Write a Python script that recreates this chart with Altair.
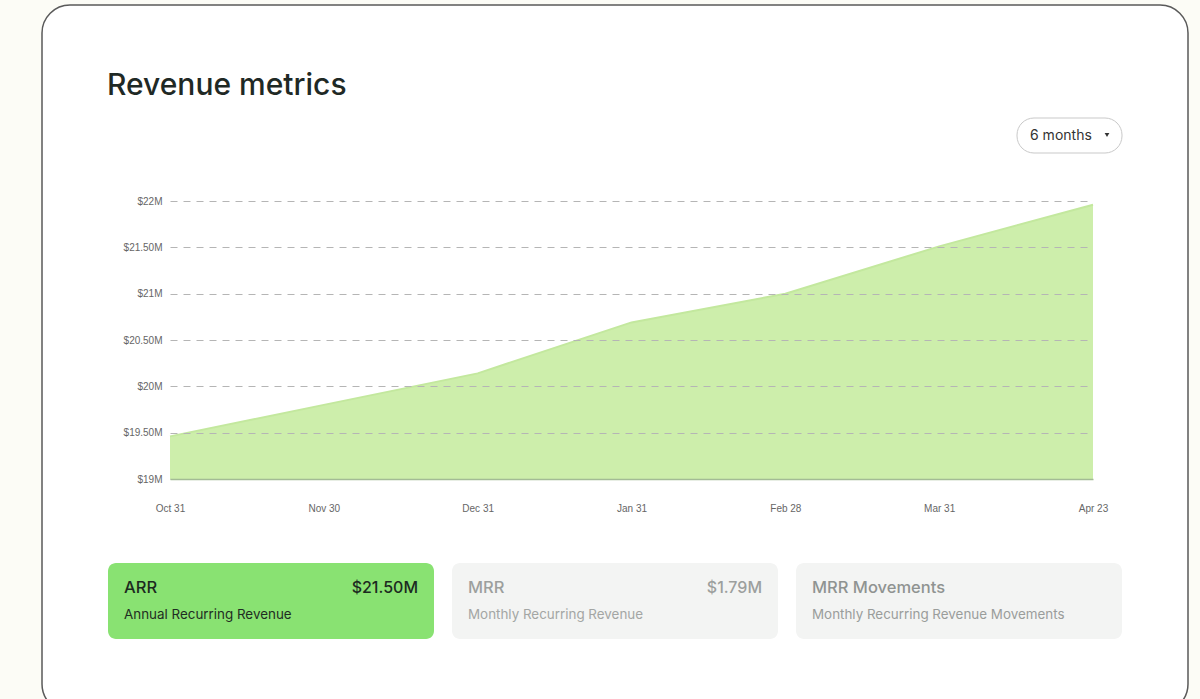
import altair as alt
import pandas as pd

# ---- data ----
dates = ["Oct 31", "Nov 30", "Dec 31", "Jan 31", "Feb 28", "Mar 31", "Apr 23"]
arr_millions = [19.46, 19.80, 20.14, 20.69, 21.00, 21.51, 21.96]
y_ticks = [19, 19.5, 20, 20.5, 21, 21.5, 22]
y_floor = 19

title_text = "Revenue metrics"
period_label = "6 months"
card_titles = ["ARR", "MRR", "MRR Movements"]
card_values = ["$21.50M", "$1.79M", ""]
card_subtitles = [
    "Annual Recurring Revenue",
    "Monthly Recurring Revenue",
    "Monthly Recurring Revenue Movements",
]

# ---- layout (pixels in the 1200x699 page) ----
OX, OY = 170, 201          # plot origin
W, H = 923, 278            # plot size
FONT = "Inter"
AXFONT = "Liberation Sans"


def X(v):
    return alt.value(v - OX)


def Y(v):
    return alt.value(v - OY)


def one():
    return alt.Data(values=[{"k": 0}])


def rect(x1, y1, x2, y2, **kw):
    return alt.Chart(one()).mark_rect(**kw).encode(x=X(x1), x2=X(x2), y=Y(y1), y2=Y(y2))


def label(text, x, y, **kw):
    kw.setdefault("font", FONT)
    kw.setdefault("baseline", "middle")
    kw.setdefault("align", "left")
    return alt.Chart(one()).mark_text(text=text, **kw).encode(x=X(x), y=Y(y))


df = pd.DataFrame({"date": dates, "arr": arr_millions})

card_bg = rect(42, 5, 1188, 712, fill="#ffffff", stroke="#5a5a5a", strokeWidth=1.5, cornerRadius=28)

area = alt.Chart(df).mark_area(
    color="#cdeeab", opacity=1,
    line={"color": "#c3e89e", "strokeWidth": 2},
).encode(
    x=alt.X("date:N", sort=dates, scale=alt.Scale(type="point", padding=0),
            axis=alt.Axis(title=None, labelAngle=0, ticks=False, grid=False,
                          domain=True, domainColor="#a3bb95", domainWidth=1.5,
                          labelPadding=24, labelFont=AXFONT, labelFontSize=10,
                          labelColor="#666666", zindex=1)),
    y=alt.Y("arr:Q", scale=alt.Scale(domain=[19, 22], zero=False, nice=False),
            axis=alt.Axis(title=None, values=y_ticks, ticks=False, domain=False,
                          grid=True, gridColor="#b5b5b5", gridDash=[7, 6], gridWidth=1,
                          labelPadding=8, labelFont=AXFONT, labelFontSize=10,
                          labelColor="#666666", zindex=1,
                          labelExpr="datum.value % 1 == 0 ? '$' + datum.value + 'M' : '$' + format(datum.value, '.2f') + 'M'")),
    y2=alt.Y2Datum(y_floor),
)

layers = [card_bg, area]

layers.append(label(title_text, 107, 86, fontSize=30, fontWeight=500, color="#1f2925"))

# period dropdown
layers.append(rect(1017, 118, 1122, 153, fill="#ffffff", stroke="#c9c9c9", strokeWidth=1, cornerRadius=17))
layers.append(label(period_label, 1030, 136, fontSize=14, color="#333333"))
layers.append(alt.Chart(one()).mark_point(shape="triangle-down", size=22, filled=True, color="#333333", opacity=1)
              .encode(x=X(1107), y=Y(135)))

# metric cards
card_x = [108, 452, 796]
card_w = 326
card_fill = ["#89e272", "#f3f4f3", "#f3f4f3"]
title_col = ["#1c2a1f", "#9c9f9d", "#8f9391"]
sub_col = ["#1f2d22", "#a3a6a4", "#9a9d9b"]
for i in range(3):
    x0 = card_x[i]
    layers.append(rect(x0, 563, x0 + card_w, 639, fill=card_fill[i], cornerRadius=8))
    layers.append(label(card_titles[i], x0 + 16, 588, fontSize=16.5, fontWeight=500, color=title_col[i]))
    if card_values[i]:
        layers.append(label(card_values[i], x0 + card_w - 16, 588, align="right",
                            fontSize=16, fontWeight=500, color=title_col[i]))
    layers.append(label(card_subtitles[i], x0 + 16, 615, fontSize=13.4, color=sub_col[i]))

chart = alt.layer(*layers).properties(
    width=W, height=H,
    autosize=alt.AutoSizeParams(type="none"),
    padding={"left": OX, "top": OY, "right": 1200 - OX - W, "bottom": 699 - OY - H},
).configure(background="#fcfcf6").configure_view(stroke=None)

chart.save("out.html", embed_options={"renderer": "svg", "actions": False})
